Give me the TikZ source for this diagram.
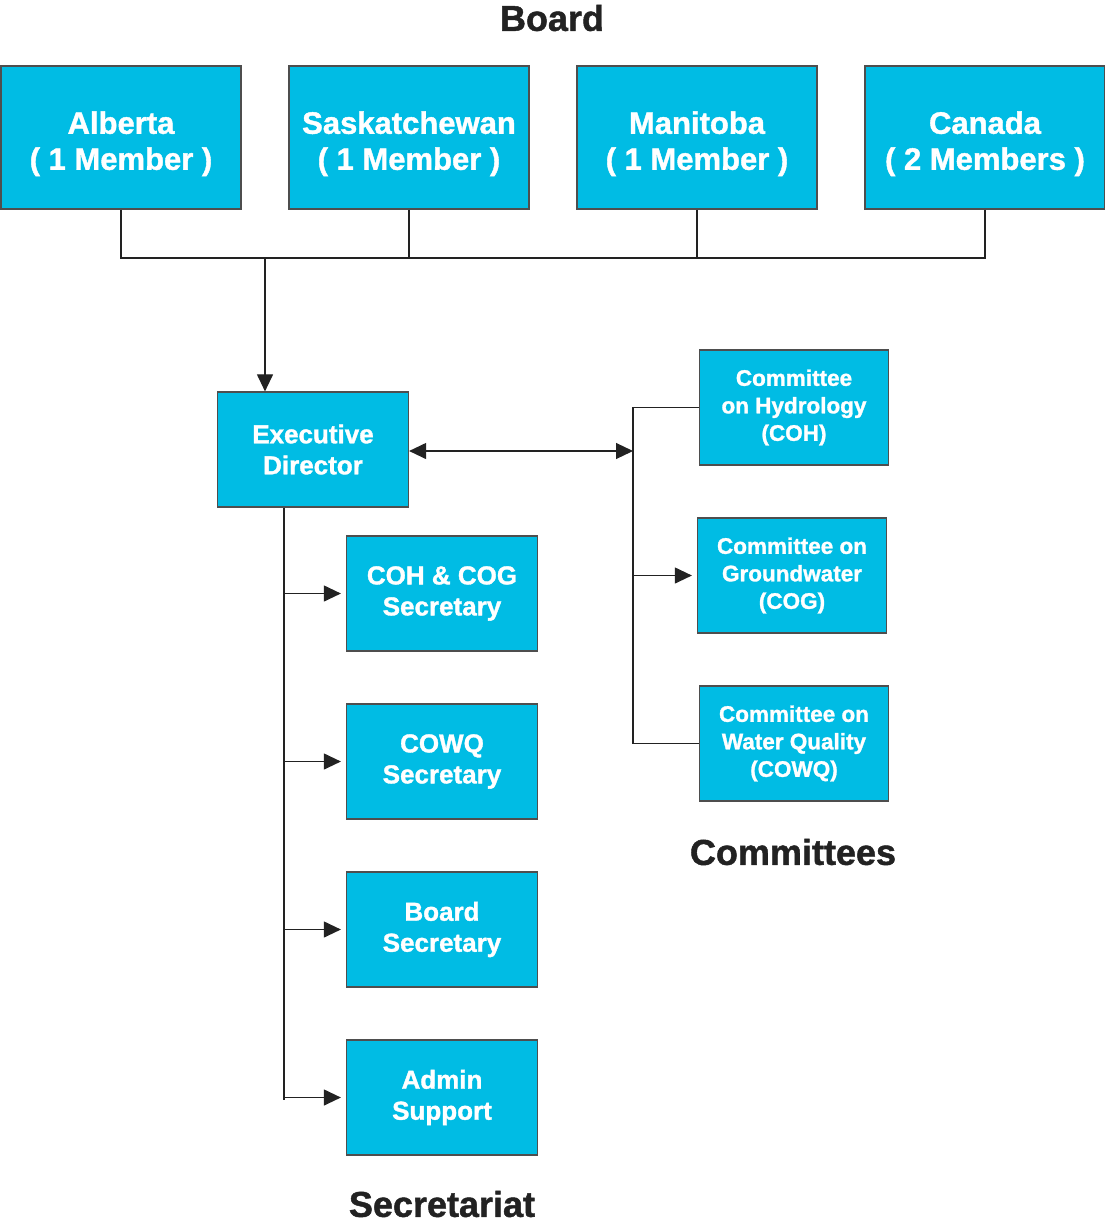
\documentclass[tikz,border=0pt]{standalone}
\usepackage{fontspec}
\setmainfont{Liberation Sans}[BoldFeatures={FakeBold=1.3}]
\usetikzlibrary{arrows.meta}

\definecolor{boxblue}{RGB}{0,188,228}
\definecolor{linegray}{RGB}{34,34,34}

\begin{document}
\begin{tikzpicture}[x=1pt, y=-1pt,
    unit/.style={draw=linegray!80, line width=1.2pt, fill=boxblue, text=white, font=\bfseries, align=center, inner sep=0pt},
    member/.style={unit, minimum width=240pt, minimum height=143pt, font=\fontsize{31}{36}\bfseries,
      execute at begin node={\rule{0pt}{71pt}}},
    staff/.style={unit, minimum width=191pt, minimum height=115pt, font=\fontsize{26}{31}\bfseries},
    cttee/.style={unit, minimum width=189pt, minimum height=115pt, font=\fontsize{22.5}{27.5}\bfseries},
    heading/.style={text=linegray, font=\fontsize{36}{40}\bfseries},
    link/.style={draw=linegray, line width=1.1pt},
    arr/.style={link, -{Triangle[length=17pt, width=16pt]}}]
  \useasboundingbox (0,0) rectangle (1104,1224);

  % board
  \node[heading] (board) at (552,18) {Board};
  \node[member] (alb) at (121,137.5) {Alberta\\( 1 Member )};
  \node[member] (sas) at (409,137.5) {Saskatchewan\\( 1 Member )};
  \node[member] (man) at (697,137.5) {Manitoba\\( 1 Member )};
  \node[member] (can) at (985,137.5) {Canada\\( 2 Members )};

  \node[staff] (ed) at (313,449.5) {Executive\\Director};

  % committees
  \node[cttee] (coh) at (794,407.5) {Committee\\on Hydrology\\(COH)};
  \node[cttee] (cog) at (792,575.5) {Committee on\\Groundwater\\(COG)};
  \node[cttee] (cowq) at (794,743.5) {Committee on\\Water Quality\\(COWQ)};
  \node[heading] (cttees) at (793,852) {Committees};

  % secretariat
  \node[staff] (cs) at (442,593.5) {COH \& COG\\Secretary};
  \node[staff] (qs) at (442,761.5) {COWQ\\Secretary};
  \node[staff] (bs) at (442,929.5) {Board\\Secretary};
  \node[staff] (as) at (442,1097.5) {Admin\\Support};
  \node[heading] (secr) at (442,1204) {Secretariat};

  \coordinate (junc) at (265,258);
  \coordinate (cbus) at (633,451);
  \coordinate (sbus) at (284,1100);

  \foreach \m in {alb,sas,man,can}
    \draw[link] (\m.south) |- (junc);
  \draw[arr] (junc) -- (junc |- ed.north);

  \draw[link, {Triangle[length=17pt, width=16pt]}-{Triangle[length=17pt, width=16pt]}] (ed.east |- cbus) -- (cbus);
  \draw[link] (coh.west) -| (cbus);
  \draw[link] (cowq.west) -| (cbus);
  \draw[arr, shorten >=5pt] (cbus |- cog.west) -- (cog.west);

  \draw[link] (sbus |- ed.south) -- (sbus);
  \foreach \s in {cs,qs,bs,as}
    \draw[arr, shorten >=5pt] (sbus |- \s.west) -- (\s.west);
\end{tikzpicture}
\end{document}
